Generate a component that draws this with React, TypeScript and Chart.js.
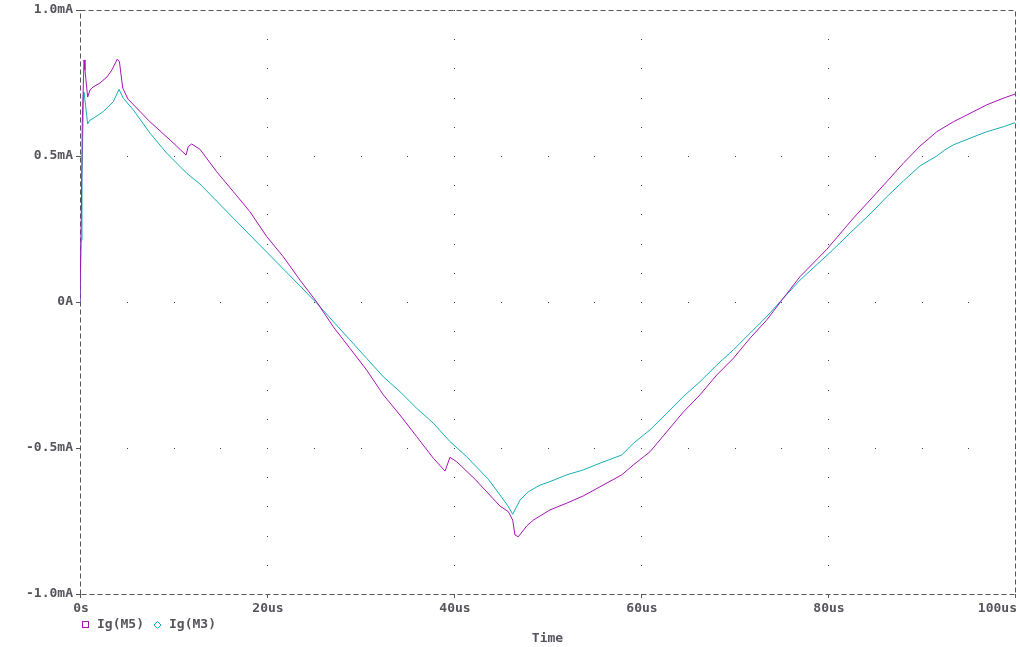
import React, { useEffect, useRef } from "react";
import { Chart, registerables } from "chart.js";

Chart.register(...registerables);

// ---- data (time in us, current in mA) ----
const m5Time = [
  0, 0.16, 0.25, 0.43, 0.53, 0.82, 1.07, 1.39, 2.14, 2.89, 3.42, 3.99, 4.22, 4.57, 5.13, 7.49, 9.63,
  11.12, 11.34, 11.58, 11.95, 12.83, 14.62, 16.4, 18.18, 19.97, 21.74, 23.53, 25.32, 27.09, 28.88,
  30.66, 32.44, 34.22, 36.01, 37.79, 39.04, 39.57, 40.29, 42.25, 44.92, 45.81, 46.28, 46.52, 46.88,
  47.78, 48.48, 50.27, 52.05, 53.83, 55.61, 57.94, 59.18, 60.96, 64.52, 66.31, 68.1, 69.87, 71.66,
  73.44, 75.22, 77.01, 79.86, 82.71, 84.49, 86.28, 88.05, 89.84, 91.63, 93.4, 95.19, 96.97, 98.75, 100,
];
const m5Current = [
  0, 0.349, 0.623, 0.829, 0.795, 0.702, 0.726, 0.736, 0.75, 0.771, 0.795, 0.832, 0.822, 0.733, 0.695,
  0.617, 0.555, 0.51, 0.503, 0.532, 0.541, 0.523, 0.446, 0.378, 0.309, 0.224, 0.155, 0.075, 0, -0.085,
  -0.159, -0.233, -0.318, -0.387, -0.461, -0.535, -0.579, -0.532, -0.547, -0.607, -0.699, -0.718,
  -0.747, -0.798, -0.804, -0.767, -0.747, -0.712, -0.689, -0.664, -0.633, -0.592, -0.558, -0.513,
  -0.377, -0.318, -0.25, -0.193, -0.124, -0.062, 0.013, 0.087, 0.18, 0.287, 0.349, 0.412, 0.475,
  0.534, 0.583, 0.617, 0.646, 0.675, 0.698, 0.712,
];
const m3Time = [
  0, 0.11, 0.21, 0.37, 0.43, 0.59, 0.82, 1.07, 1.42, 2.49, 3.56, 4.17, 4.63, 5.7, 7.49, 9.27, 11.41,
  12.83, 18.18, 23.53, 25.32, 27.09, 28.88, 30.66, 32.44, 34.22, 36.01, 37.79, 39.57, 41.36, 43.67,
  44.92, 45.78, 46.28, 46.63, 47.06, 47.95, 49.2, 50.27, 52.05, 53.83, 55.61, 57.94, 59.18, 60.96,
  62.75, 64.52, 66.31, 68.1, 69.87, 71.66, 73.44, 75.22, 77.01, 80.5, 82.71, 84.49, 86.28, 88.05,
  89.84, 91.63, 92.51, 93.4, 95.19, 96.97, 98.75, 100,
];
const m3Current = [
  0, 0.212, 0.418, 0.709, 0.719, 0.675, 0.61, 0.623, 0.629, 0.652, 0.686, 0.728, 0.698, 0.658, 0.578,
  0.51, 0.441, 0.404, 0.229, 0.055, -0.004, -0.067, -0.13, -0.193, -0.256, -0.307, -0.364, -0.415,
  -0.478, -0.53, -0.607, -0.661, -0.699, -0.727, -0.705, -0.678, -0.65, -0.627, -0.615, -0.592,
  -0.575, -0.552, -0.524, -0.484, -0.438, -0.381, -0.324, -0.273, -0.216, -0.164, -0.107, -0.05,
  0.013, 0.075, 0.178, 0.247, 0.301, 0.36, 0.414, 0.466, 0.5, 0.521, 0.538, 0.561, 0.583, 0.6, 0.614,
];

const seriesNames = ["Ig(M5)", "Ig(M3)"];
const seriesColors = ["#a514b4", "#14aeb4"];

const xTickValues = [0, 20, 40, 60, 80, 100];
const xTickLabels = ["0s", "20us", "40us", "60us", "80us", "100us"];
const yTickValues = [1, 0.5, 0, -0.5, -1];
const yTickLabels = ["1.0mA", "0.5mA", "0A", "-0.5mA", "-1.0mA"];
const xMinorStep = 5;
const yMinorStep = 0.1;
const xAxisTitle = "Time";

const TEXT = "#55535c";
const FRAME = "#55555a";
const FONT = "bold 13px 'DejaVu Sans Mono', monospace";

const decorPlugin = {
  id: "pspiceDecor",
  beforeDatasetsDraw(chart: any) {
    const { ctx, chartArea, scales } = chart;
    const xs = scales.x;
    const ys = scales.y;
    const { left, right, top, bottom } = chartArea;
    ctx.save();
    // dotted grid: dots along major grid lines at minor spacing
    ctx.fillStyle = "#404040";
    for (const xv of xTickValues) {
      if (xv === xs.min || xv === xs.max) continue;
      const px = Math.round(xs.getPixelForValue(xv));
      for (let k = 0; k <= Math.round((ys.max - ys.min) / yMinorStep); k++) {
        const py = Math.round(ys.getPixelForValue(ys.min + k * yMinorStep));
        ctx.fillRect(px, py, 1, 1);
      }
    }
    for (const yv of yTickValues) {
      if (yv === ys.min || yv === ys.max) continue;
      const py = Math.round(ys.getPixelForValue(yv));
      for (let k = 0; k <= Math.round((xs.max - xs.min) / xMinorStep); k++) {
        const px = Math.round(xs.getPixelForValue(xs.min + k * xMinorStep));
        ctx.fillRect(px, py, 1, 1);
      }
    }
    // dashed frame
    ctx.strokeStyle = FRAME;
    ctx.lineWidth = 1;
    ctx.setLineDash([5, 3]);
    ctx.beginPath();
    ctx.moveTo(left + 0.5, bottom + 0.5);
    ctx.lineTo(left + 0.5, top + 0.5);
    ctx.lineTo(right + 0.5, top + 0.5);
    ctx.lineTo(right + 0.5, bottom + 0.5);
    ctx.lineTo(left + 0.5, bottom + 0.5);
    ctx.stroke();
    ctx.setLineDash([]);
    // tick marks
    ctx.beginPath();
    for (const yv of yTickValues) {
      const py = Math.round(ys.getPixelForValue(yv)) + 0.5;
      ctx.moveTo(left - 4, py);
      ctx.lineTo(left + 1, py);
    }
    for (const xv of xTickValues) {
      const px = Math.round(xs.getPixelForValue(xv)) + 0.5;
      ctx.moveTo(px, bottom);
      ctx.lineTo(px, bottom + 4);
    }
    ctx.stroke();
    ctx.restore();
  },
  afterDraw(chart: any) {
    const { ctx, chartArea, scales } = chart;
    const xs = scales.x;
    const { left, right, bottom } = chartArea;
    ctx.save();
    ctx.font = FONT;
    ctx.fillStyle = TEXT;
    ctx.textBaseline = "middle";
    // x tick labels
    xTickValues.forEach((v, i) => {
      const px = xs.getPixelForValue(v);
      const label = xTickLabels[i];
      const w = ctx.measureText(label).width;
      if (px + w / 2 > chart.width - 2) {
        ctx.textAlign = "right";
        ctx.fillText(label, right + 2, bottom + 15);
      } else {
        ctx.textAlign = "center";
        ctx.fillText(label, px + 1, bottom + 15);
      }
    });
    // legend
    const ly = bottom + 31;
    ctx.textAlign = "left";
    ctx.lineWidth = 1;
    ctx.strokeStyle = seriesColors[0];
    ctx.strokeRect(left + 2.5, ly - 3.5, 6, 6);
    ctx.fillText(seriesNames[0], left + 17, ly);
    ctx.strokeStyle = seriesColors[1];
    const dx = left + 77.5;
    ctx.beginPath();
    ctx.moveTo(dx, ly - 3.5);
    ctx.lineTo(dx + 3.5, ly);
    ctx.lineTo(dx, ly + 3.5);
    ctx.lineTo(dx - 3.5, ly);
    ctx.closePath();
    ctx.stroke();
    ctx.fillText(seriesNames[1], left + 89, ly);
    // axis title
    ctx.textAlign = "center";
    ctx.fillText(xAxisTitle, (left + right) / 2, bottom + 45);
    ctx.restore();
  },
};

export default function App() {
  const ref = useRef<HTMLCanvasElement>(null);
  useEffect(() => {
    if (!ref.current) return;
    const chart = new Chart(ref.current, {
      type: "line",
      data: {
        datasets: [
          {
            label: seriesNames[0],
            data: m5Time.map((t, i) => ({ x: t, y: m5Current[i] })),
            borderColor: seriesColors[0],
            borderWidth: 1,
            pointRadius: 0,
            tension: 0,
            fill: false,
          },
          {
            label: seriesNames[1],
            data: m3Time.map((t, i) => ({ x: t, y: m3Current[i] })),
            borderColor: seriesColors[1],
            borderWidth: 1,
            pointRadius: 0,
            tension: 0,
            fill: false,
          },
        ],
      },
      options: {
        animation: false,
        responsive: false,
        layout: { padding: { top: 10, right: 5, left: 0, bottom: 0 } },
        plugins: { legend: { display: false }, tooltip: { enabled: false } },
        scales: {
          x: {
            type: "linear",
            min: 0,
            max: 100,
            grid: { display: false, drawTicks: false },
            border: { display: false },
            ticks: { display: false },
            afterFit: (s: any) => {
              s.height = 53;
              s.paddingLeft = 0;
              s.paddingRight = 0;
            },
          },
          y: {
            type: "linear",
            min: -1,
            max: 1,
            grid: { display: false, drawTicks: false },
            border: { display: false },
            ticks: {
              stepSize: 0.5,
              padding: 7,
              color: TEXT,
              font: { family: "'DejaVu Sans Mono', monospace", size: 13, weight: "bold" },
              callback: (v: any) => {
                const idx = yTickValues.findIndex((t) => Math.abs(t - Number(v)) < 1e-9);
                return idx >= 0 ? yTickLabels[idx] : "";
              },
            },
            afterFit: (s: any) => {
              s.width = 80;
              s.paddingTop = 0;
              s.paddingBottom = 0;
            },
          },
        },
      },
      plugins: [decorPlugin],
    });
    return () => chart.destroy();
  }, []);
  return (
    <div style={{ position: "absolute", left: 0, top: 0, width: 1020, height: 647, background: "#fff" }}>
      <canvas ref={ref} width={1020} height={647} style={{ display: "block" }} />
    </div>
  );
}
